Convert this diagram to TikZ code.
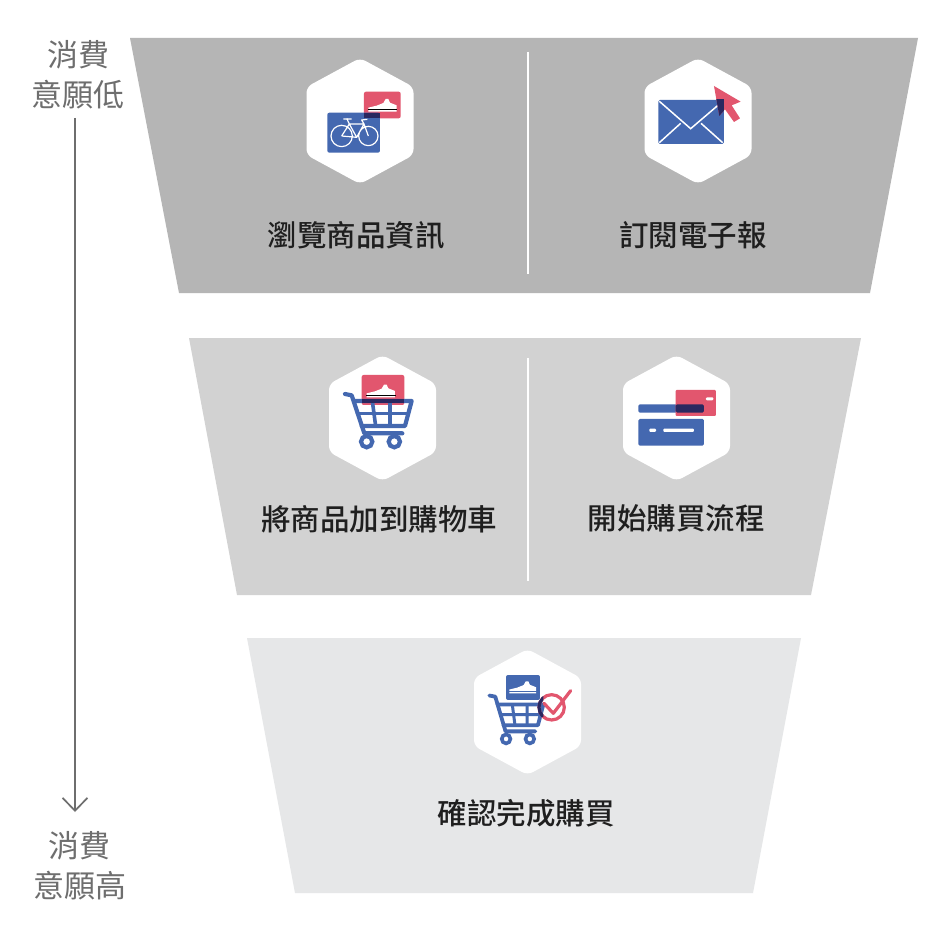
\documentclass[tikz,border=0pt]{standalone}
\usepackage{fontspec}
\usetikzlibrary{arrows.meta}
\newfontfamily\cjk{Noto Sans CJK TC Medium}
\newfontfamily\cjklight{Noto Sans CJK TC}
\definecolor{band1}{HTML}{B5B5B5}
\definecolor{band2}{HTML}{D2D2D2}
\definecolor{band3}{HTML}{E6E7E8}
\definecolor{iconblue}{HTML}{4468B0}
\definecolor{iconred}{HTML}{E2566E}
\definecolor{icondark}{HTML}{2A2860}
\definecolor{axisgray}{HTML}{6E6E6E}
\newcommand{\hexat}[3]{\fill[white,rounded corners=6pt] (#1,#2-#3) -- (#1+53.5,#2-#3+29) -- (#1+53.5,#2+#3-29) -- (#1,#2+#3) -- (#1-53.5,#2+#3-29) -- (#1-53.5,#2-#3+29) -- cycle;}
\tikzset{
  steplabel/.style={font=\cjk\fontsize{29.5}{29.5}\selectfont,text=black!88,inner sep=0pt},
  sidelabel/.style={font=\cjklight\fontsize{31}{40}\selectfont,text=axisgray,inner sep=0pt,align=center},
  divider/.style={white,line width=2.6pt},
  zoomed/.style={x=0.3333pt,y=-0.3333pt},
  cartline/.style={iconblue,line width=4.2pt,line cap=round,line join=round},
  shoe/.pic={
    \fill[white] (0,0) -- (0,-12) -- (25,-18) -- (45,-26) -- (52,-38) -- (60,-38) -- (65,-27) -- (85,-19) -- (85,0) -- cycle;
    \draw[#1,line width=0.6pt] (-2,-7) -- (87,-7);
  },
  shoe/.default=iconred,
  cart/.pic={
    \draw[cartline] (90,132) -- (110,136) -- (148,250) -- (262,250);
    \draw[cartline] (118,153) -- (290,153) -- (270,228) -- (140,228);
    \draw[cartline,line width=3.6pt] (127,190) -- (280,190);
    \draw[cartline,line width=3.6pt] (172,153) -- (182,228) (225,153) -- (225,228);
    \draw[iconblue,line width=4.2pt] (155,275) circle (17) (238,275) circle (17);
  }
}
\begin{document}
\begin{tikzpicture}[x=1pt,y=-1pt]
\fill[white] (0,0) rectangle (940,928);
\useasboundingbox (0,0) rectangle (940,928);
% funnel bands
\fill[band1] (130,38) -- (918,38) -- (870,293) -- (179,293) -- cycle;
\fill[band2] (189,338) -- (861,338) -- (811,595) -- (237,595) -- cycle;
\fill[band3] (247,638) -- (801,638) -- (753,893) -- (295,893) -- cycle;
\draw[divider] (528,52) -- (528,274);
\draw[divider] (528,358) -- (528,581);
% hexagons
\hexat{360}{121}{63}
\hexat{698}{121}{63}
\hexat{382.5}{418}{63}
\hexat{676.5}{418}{63}
\hexat{527.5}{712}{63}
% icon 1: bicycle
\begin{scope}[shift={(290,50)},zoomed]
  \fill[iconred,rounded corners=2pt] (222,125) rectangle (332,205);
  \fill[iconblue,rounded corners=2pt] (112,188) rectangle (270,308);
  \fill[icondark] (222,188) rectangle (270,205);
  \pic at (235,185) {shoe};
  \draw[white,line width=1.2pt,line join=round]
    (155,258) circle (32) (235,258) circle (29)
    (155,258) -- (178,222) -- (222,222) -- (200,262) -- (155,258)
    (178,222) -- (200,262) (222,222) -- (235,258)
    (170,205) -- (178,222) (160,207) -- (185,207)
    (222,222) -- (215,210) -- (232,208);
\end{scope}
% icon 2: envelope and pointer
\begin{scope}[shift={(630,50)},zoomed]
  \fill[iconblue,rounded corners=1.5pt] (85,150) rectangle (282,282);
  \draw[white,line width=1.5pt] (88,154) -- (182,236) -- (278,154)
    (88,278) -- (152,220) (278,278) -- (213,220);
  \fill[iconred] (252,108) -- (332,155) -- (305,166) -- (330,205) -- (312,216) -- (285,178) -- (268,198) -- cycle;
  \begin{scope}
    \clip (85,150) rectangle (282,282);
    \fill[icondark] (252,108) -- (332,155) -- (305,166) -- (330,205) -- (312,216) -- (285,178) -- (268,198) -- cycle;
  \end{scope}
\end{scope}
% icon 3: cart with red box
\begin{scope}[shift={(315,350)},zoomed]
  \fill[iconred,rounded corners=2pt] (140,75) rectangle (268,165);
  \pic at (155,142) {shoe};
  \pic {cart};
  \fill[icondark] (140,147) rectangle (268,159);
\end{scope}
% icon 4: credit card
\begin{scope}[shift={(610,350)},zoomed]
  \fill[iconblue,rounded corners=1.5pt] (85,163) rectangle (282,188);
  \fill[iconblue,rounded corners=1.5pt] (85,207) rectangle (282,287);
  \fill[white,rounded corners=1pt] (118,236) rectangle (138,246);
  \fill[white,rounded corners=1pt] (160,236) rectangle (252,246);
  \fill[iconred,rounded corners=1pt] (197,120) rectangle (318,198);
  \fill[white,rounded corners=1pt] (288,142) rectangle (310,151);
  \fill[icondark,rounded corners=1.5pt] (197,163) rectangle (282,188);
\end{scope}
% icon 5: cart with check
\begin{scope}[shift={(460,650)},zoomed]
  \fill[iconblue,rounded corners=2pt] (138,75) rectangle (240,150);
  \pic[scale=0.95] at (148,130) {shoe=iconblue};
  \begin{scope}[shift={(88,145)},x=0.27pt,y=-0.28pt]
    \draw[iconblue,line width=3.8pt,line cap=round,line join=round] (0,-10) -- (22,-6) -- (60,118) -- (170,118);
    \draw[iconblue,line width=3.8pt,line cap=round,line join=round] (30,22) -- (200,22) -- (180,96) -- (52,96);
    \draw[iconblue,line width=3pt] (40,58) -- (190,58) (85,22) -- (95,96) (140,22) -- (140,96);
    \draw[iconblue,line width=3.6pt] (62,145) circle (16) (150,145) circle (16);
  \end{scope}
  \draw[iconred,line width=3.2pt] (275,172) circle (38);
  \draw[iconred,line width=3.2pt,line cap=round,line join=round] (252,160) -- (280,190) -- (332,122);
  \begin{scope}
    \clip (230,130) rectangle (250,200);
    \draw[icondark,line width=3.2pt] (275,172) circle (38);
  \end{scope}
\end{scope}
% labels
\node[steplabel] (browse) at (356,235) {瀏覽商品資訊};
\node[steplabel] (subscribe) at (693,235) {訂閱電子報};
\node[steplabel] (addcart) at (379,519) {將商品加到購物車};
\node[steplabel] (checkout) at (676,518) {開始購買流程};
\node[steplabel] (confirm) at (526,813) {確認完成購買};
\node[sidelabel] (low) at (78,75) {消費\\意願低};
\node[sidelabel] (high) at (80,866) {消費\\意願高};
\coordinate (axistop) at (75,118);
\coordinate (axisbot) at (75,812);
\draw[axisgray,line width=1.7pt,-{Straight Barb[length=13pt,width=25pt,line width=1.7pt]}] (axistop) -- (axisbot);
\end{tikzpicture}
\end{document}
